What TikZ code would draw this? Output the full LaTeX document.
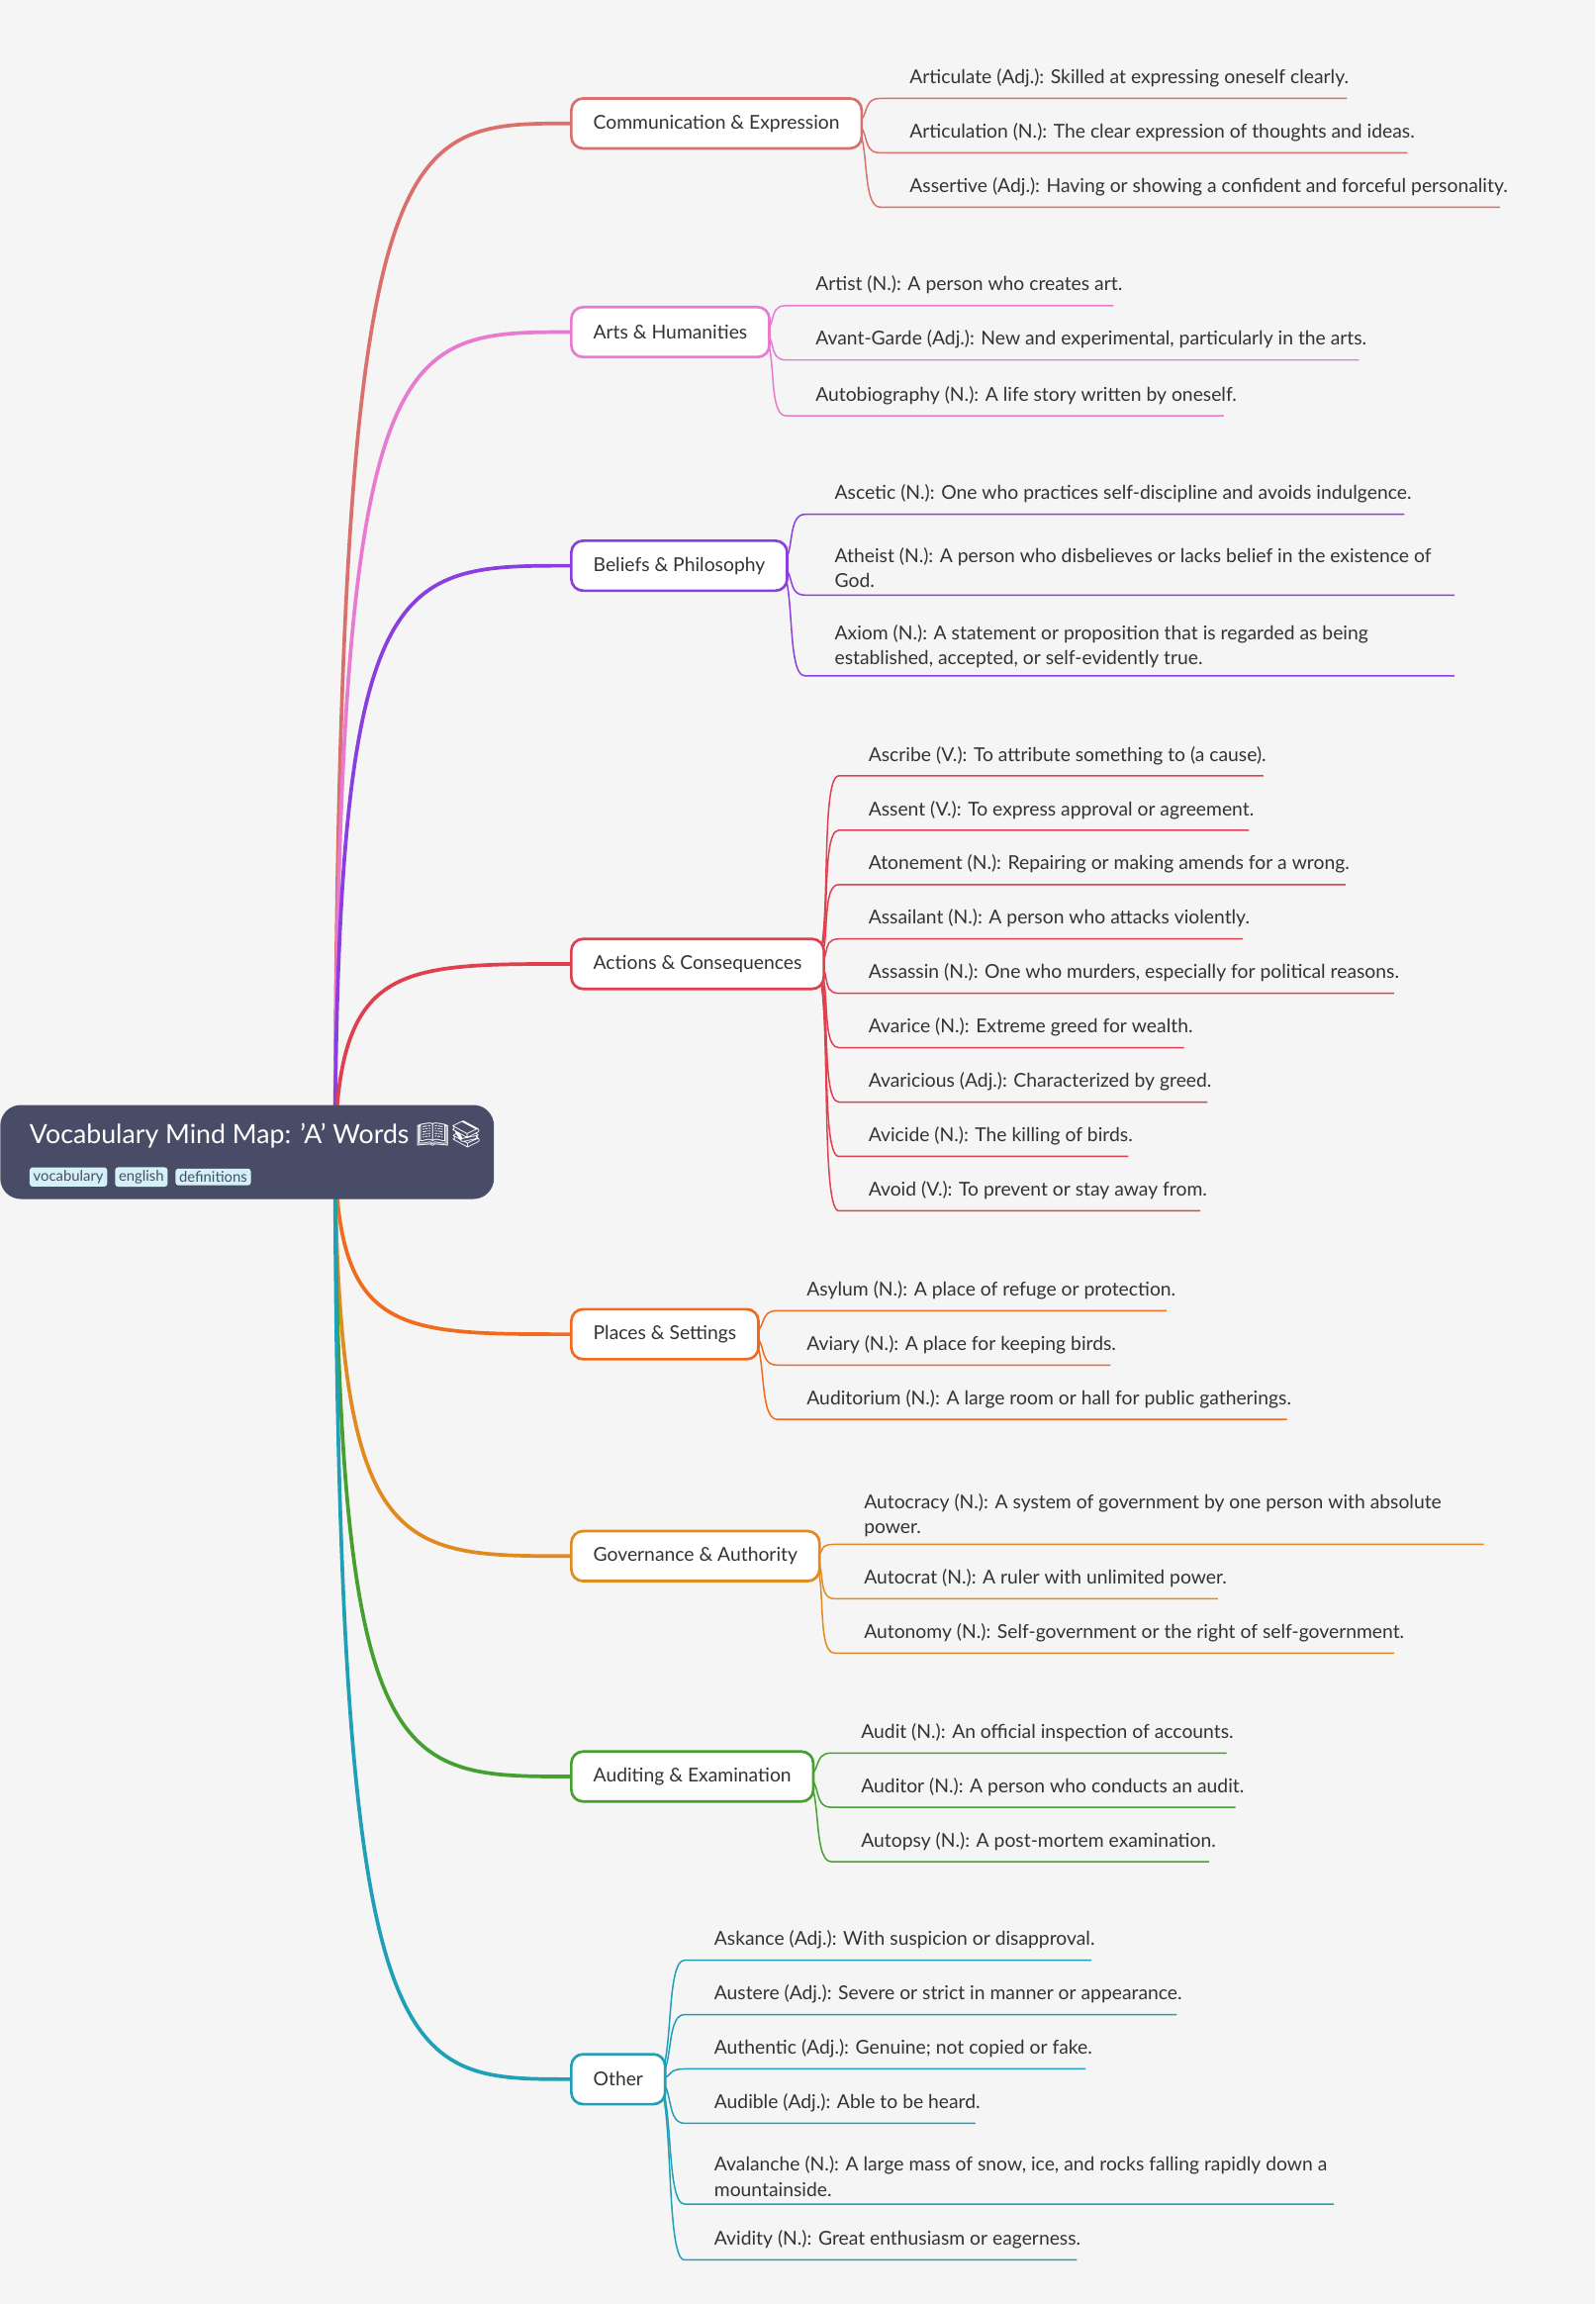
\documentclass[tikz,border=0pt]{standalone}
\usepackage{fontspec}
\setmainfont{Lato}
\newfontfamily\emo{Noto Emoji}
\usetikzlibrary{backgrounds}
\definecolor{bg}{HTML}{F5F5F5}
\definecolor{rootc}{HTML}{494C66}
\definecolor{txt}{HTML}{333333}
\definecolor{cA}{HTML}{D9706E}
\definecolor{cB}{HTML}{E87BD0}
\definecolor{cC}{HTML}{8A3EE0}
\definecolor{cD}{HTML}{E0404E}
\definecolor{cE}{HTML}{F26B1D}
\definecolor{cF}{HTML}{E08A20}
\definecolor{cG}{HTML}{45A02F}
\definecolor{cH}{HTML}{1F9FB8}
\definecolor{tagc}{HTML}{D4F1F7}
\newcommand\leaf[7]{%
\node[leaftext,anchor=base west] (#1) at (#4,#5-10) {#7};
\coordinate (#1a) at (#4-20,#5); \coordinate (#1b) at (#6,#5);
\begin{scope}[on background layer]
\draw[#3,leafline] ([xshift=-8pt]#2.east) .. controls +(14,0) and +(-14,0) .. (#1a) -- (#1b);
\end{scope}}
\newcommand\leafii[7]{%
\node[leaftext,anchor=south west,text width=470pt,align=flush left] (#1) at (#4,#5-5) {#7};
\coordinate (#1a) at (#4-20,#5); \coordinate (#1b) at (#6,#5);
\begin{scope}[on background layer]
\draw[#3,leafline] ([xshift=-8pt]#2.east) .. controls +(14,0) and +(-14,0) .. (#1a) -- (#1b);
\end{scope}}
\newcommand\cat[4]{%
\draw[#3,branch] (228,784) .. controls (230,#4) and (270,#4) .. (388,#4);
\node[catbox,draw=#3,anchor=west] (#1) at (388,#4) {#2};}
\tikzset{
leaftext/.style={font=\fontsize{13}{17}\selectfont,text=txt,inner sep=0pt},
leafline/.style={line width=1pt},
branch/.style={line width=2.5pt},
catbox/.style={rounded corners=8pt,line width=1.8pt,fill=white,minimum height=34pt,inner xsep=15pt,font=\fontsize{13}{16}\selectfont,text=txt},
tag/.style={fill=tagc,rounded corners=2pt,font=\fontsize{10}{11}\selectfont,text=rootc,inner xsep=2.5pt,inner ysep=2pt,anchor=west}
}
\begin{document}
\begin{tikzpicture}[x=1pt,y=-1pt]
\begin{scope}[on background layer]
\fill[bg] (0,0) rectangle (1086,1568);
\end{scope}
\useasboundingbox (0,0) rectangle (1086,1568);
\cat{ca}{Communication \& Expression}{cA}{84}
\cat{cb}{Arts \& Humanities}{cB}{226}
\cat{cc}{Beliefs \& Philosophy}{cC}{385}
\cat{cd}{Actions \& Consequences}{cD}{656}
\cat{ce}{Places \& Settings}{cE}{908}
\cat{cf}{Governance \& Authority}{cF}{1059}
\cat{cg}{Auditing \& Examination}{cG}{1209}
\cat{ch}{Other}{cH}{1415}
\node[fill=rootc,rounded corners=14pt,minimum width=336pt,minimum height=64pt,anchor=west] (rootbox) at (0,784) {};
\node[anchor=west,text=white,font=\fontsize{18}{20}\selectfont,inner sep=0pt] (title) at (20,772) {Vocabulary Mind Map: 'A' Words {\emo 📖📚}};
\node[tag] (t1) at (20,801) {vocabulary};
\node[tag] (t2) at (t1.east) [xshift=5pt] {english};
\node[tag] (t3) at (t2.east) [xshift=5pt] {definitions};
\leaf{a1}{ca}{cA}{619}{67}{917}{Articulate (Adj.): Skilled at expressing oneself clearly.}
\leaf{a2}{ca}{cA}{619}{104}{958}{Articulation (N.): The clear expression of thoughts and ideas.}
\leaf{a3}{ca}{cA}{619}{141}{1021}{Assertive (Adj.): Having or showing a confident and forceful personality.}
\leaf{b1}{cb}{cB}{555}{208}{758}{Artist (N.): A person who creates art.}
\leaf{b2}{cb}{cB}{555}{245}{925}{Avant-Garde (Adj.): New and experimental, particularly in the arts.}
\leaf{b3}{cb}{cB}{555}{283}{833}{Autobiography (N.): A life story written by oneself.}
\leaf{c1}{cc}{cC}{568}{350}{956}{Ascetic (N.): One who practices self-discipline and avoids indulgence.}
\leafii{c2}{cc}{cC}{568}{405}{990}{Atheist (N.): A person who disbelieves or lacks belief in the existence of\\God.}
\leafii{c3}{cc}{cC}{568}{460}{990}{Axiom (N.): A statement or proposition that is regarded as being\\established, accepted, or self-evidently true.}
\leaf{d1}{cd}{cD}{591}{528}{860}{Ascribe (V.): To attribute something to (a cause).}
\leaf{d2}{cd}{cD}{591}{565}{850}{Assent (V.): To express approval or agreement.}
\leaf{d3}{cd}{cD}{591}{602}{916}{Atonement (N.): Repairing or making amends for a wrong.}
\leaf{d4}{cd}{cD}{591}{639}{846}{Assailant (N.): A person who attacks violently.}
\leaf{d5}{cd}{cD}{591}{676}{949}{Assassin (N.): One who murders, especially for political reasons.}
\leaf{d6}{cd}{cD}{591}{713}{806}{Avarice (N.): Extreme greed for wealth.}
\leaf{d7}{cd}{cD}{591}{750}{822}{Avaricious (Adj.): Characterized by greed.}
\leaf{d8}{cd}{cD}{591}{787}{768}{Avicide (N.): The killing of birds.}
\leaf{d9}{cd}{cD}{591}{824}{817}{Avoid (V.): To prevent or stay away from.}
\leaf{e1}{ce}{cE}{549}{892}{794}{Asylum (N.): A place of refuge or protection.}
\leaf{e2}{ce}{cE}{549}{929}{756}{Aviary (N.): A place for keeping birds.}
\leaf{e3}{ce}{cE}{549}{966}{876}{Auditorium (N.): A large room or hall for public gatherings.}
\leafii{f1}{cf}{cF}{588}{1051}{1010}{Autocracy (N.): A system of government by one person with absolute\\power.}
\leaf{f2}{cf}{cF}{588}{1088}{829}{Autocrat (N.): A ruler with unlimited power.}
\leaf{f3}{cf}{cF}{588}{1125}{949}{Autonomy (N.): Self-government or the right of self-government.}
\leaf{g1}{cg}{cG}{586}{1193}{835}{Audit (N.): An official inspection of accounts.}
\leaf{g2}{cg}{cG}{586}{1230}{841}{Auditor (N.): A person who conducts an audit.}
\leaf{g3}{cg}{cG}{586}{1267}{823}{Autopsy (N.): A post-mortem examination.}
\leaf{h1}{ch}{cH}{486}{1334}{743}{Askance (Adj.): With suspicion or disapproval.}
\leaf{h2}{ch}{cH}{486}{1371}{801}{Austere (Adj.): Severe or strict in manner or appearance.}
\leaf{h3}{ch}{cH}{486}{1408}{739}{Authentic (Adj.): Genuine; not copied or fake.}
\leaf{h4}{ch}{cH}{486}{1445}{664}{Audible (Adj.): Able to be heard.}
\leafii{h5}{ch}{cH}{486}{1500}{908}{Avalanche (N.): A large mass of snow, ice, and rocks falling rapidly down a\\mountainside.}
\leaf{h6}{ch}{cH}{486}{1538}{733}{Avidity (N.): Great enthusiasm or eagerness.}
\end{tikzpicture}
\end{document}
